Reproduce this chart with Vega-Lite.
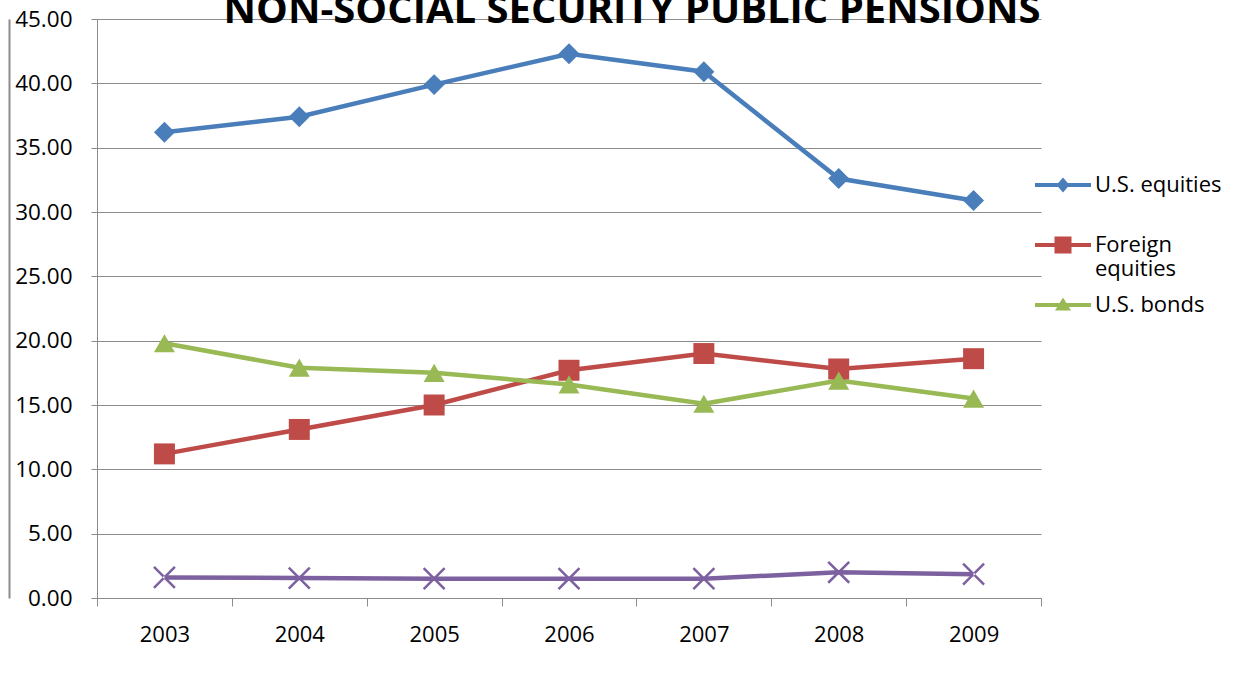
{
 "$schema": "https://vega.github.io/schema/vega-lite/v6.json",
 "width": 944,
 "height": 579,
 "autosize": {"type": "none"},
 "padding": {"left": 97, "top": 19, "right": 208, "bottom": 83},
 "background": "white",
 "title": {"text": "NON-SOCIAL SECURITY PUBLIC PENSIONS", "font": "Open Sans", "fontSize": 40, "fontWeight": "bold", "color": "#000000", "anchor": "middle", "frame": "group", "baseline": "alphabetic", "offset": -55, "dx": 63},
 "data": {"values": [
  {"year": "2003", "series": "U.S. equities", "value": 36.2},
  {"year": "2004", "series": "U.S. equities", "value": 37.4},
  {"year": "2005", "series": "U.S. equities", "value": 39.9},
  {"year": "2006", "series": "U.S. equities", "value": 42.3},
  {"year": "2007", "series": "U.S. equities", "value": 40.9},
  {"year": "2008", "series": "U.S. equities", "value": 32.6},
  {"year": "2009", "series": "U.S. equities", "value": 30.9},
  {"year": "2003", "series": "Foreign equities", "value": 11.2},
  {"year": "2004", "series": "Foreign equities", "value": 13.1},
  {"year": "2005", "series": "Foreign equities", "value": 15.0},
  {"year": "2006", "series": "Foreign equities", "value": 17.7},
  {"year": "2007", "series": "Foreign equities", "value": 19.0},
  {"year": "2008", "series": "Foreign equities", "value": 17.8},
  {"year": "2009", "series": "Foreign equities", "value": 18.6},
  {"year": "2003", "series": "U.S. bonds", "value": 19.8},
  {"year": "2004", "series": "U.S. bonds", "value": 17.9},
  {"year": "2005", "series": "U.S. bonds", "value": 17.5},
  {"year": "2006", "series": "U.S. bonds", "value": 16.6},
  {"year": "2007", "series": "U.S. bonds", "value": 15.1},
  {"year": "2008", "series": "U.S. bonds", "value": 16.9},
  {"year": "2009", "series": "U.S. bonds", "value": 15.5},
  {"year": "2003", "series": "Other", "value": 1.6},
  {"year": "2004", "series": "Other", "value": 1.55},
  {"year": "2005", "series": "Other", "value": 1.5},
  {"year": "2006", "series": "Other", "value": 1.5},
  {"year": "2007", "series": "Other", "value": 1.5},
  {"year": "2008", "series": "Other", "value": 2.0},
  {"year": "2009", "series": "Other", "value": 1.85}
 ]},
 "layer": [
  {
   "mark": {"type": "rule", "opacity": 0},
   "encoding": {
    "y": {"datum": 0, "type": "quantitative", "scale": {"domain": [0, 1]},
          "axis": {"orient": "left", "offset": 88, "labels": false, "ticks": false, "grid": false, "title": null, "domainColor": "#8c8c8c", "domainWidth": 2}}
   }
  },
  {
   "encoding": {
    "x": {"field": "year", "type": "ordinal", "scale": {"type": "band", "paddingInner": 0, "paddingOuter": 0},
          "axis": {"title": null, "tickBand": "extent", "labelAngle": 0, "tickSize": 8, "labelPadding": 18, "grid": false,
                   "domainColor": "#8c8c8c", "tickColor": "#8c8c8c", "labelFont": "Open Sans", "labelFontSize": 22, "labelColor": "#000000"}},
    "y": {"field": "value", "type": "quantitative", "scale": {"domain": [0, 45], "nice": false, "zero": true},
          "axis": {"title": null, "orient": "left", "values": [0, 5, 10, 15, 20, 25, 30, 35, 40, 45], "format": ".2f", "grid": true, "gridColor": "#8c8c8c", "gridOpacity": 1,
                   "domainColor": "#8c8c8c", "tickColor": "#8c8c8c", "tickSize": 6, "labelPadding": 19,
                   "labelFont": "Open Sans", "labelFontSize": 22.5, "labelColor": "#000000"}}
   },
   "layer": [
    {
     "mark": {"type": "line", "strokeWidth": 4.5},
     "encoding": {
      "color": {"field": "series", "type": "nominal", "legend": null,
                "scale": {"domain": ["U.S. equities", "Foreign equities", "U.S. bonds", "Other"], "range": ["#4A7EBB", "#BE4B48", "#98B954", "#7D60A0"]}}
     }
    },
    {
     "mark": {"type": "point", "filled": true, "opacity": 1, "size": 440},
     "encoding": {
      "color": {"field": "series", "type": "nominal", "legend": null},
      "shape": {"field": "series", "type": "nominal", "legend": null,
                "scale": {"domain": ["U.S. equities", "Foreign equities", "U.S. bonds", "Other"],
                          "range": ["diamond", "square", "triangle-up", "M-0.915,-1.085L1.085,0.915L0.915,1.085L-1.085,-0.915Z M-0.915,1.085L1.085,-0.915L0.915,-1.085L-1.085,0.915Z"]}}
     }
    },
    {
     "mark": {"type": "point", "filled": true, "opacity": 0, "size": 10},
     "encoding": {
      "color": {"field": "series", "type": "nominal",
                "legend": {"values": ["U.S. equities", "Foreign equities", "U.S. bonds"], "title": null, "orient": "none", "legendX": 955, "legendY": 155,
                           "labelFont": "Open Sans", "labelFontSize": 22, "labelColor": "#000000", "symbolSize": 400, "labelOffset": 21, "rowPadding": 14,
                           "labelExpr": "datum.label === 'Foreign equities' ? ['Foreign', 'equities'] : [datum.label, '']",
                           "encode": {"symbols": {"update": {"opacity": {"value": 1}}}}}},
      "shape": {"field": "series", "type": "nominal",
                "scale": {"domain": ["U.S. equities", "Foreign equities", "U.S. bonds", "Other"],
                          "range": ["M-2.8,-0.2L2.8,-0.2L2.8,0.2L-2.8,0.2Z M0,-0.75L0.65,0L0,0.75L-0.65,0Z",
                                    "M-2.8,-0.2L2.8,-0.2L2.8,0.2L-2.8,0.2Z M-0.85,-0.85L0.85,-0.85L0.85,0.85L-0.85,0.85Z",
                                    "M-2.8,-0.2L2.8,-0.2L2.8,0.2L-2.8,0.2Z M0,-0.75L0.8,0.55L-0.8,0.55Z",
                                    "M-2.8,-0.2L2.8,-0.2L2.8,0.2L-2.8,0.2Z"]},
                "legend": {"values": ["U.S. equities", "Foreign equities", "U.S. bonds"], "title": null, "orient": "none", "legendX": 955, "legendY": 155,
                           "labelFont": "Open Sans", "labelFontSize": 22, "labelColor": "#000000", "symbolSize": 400, "labelOffset": 21, "rowPadding": 14,
                           "labelExpr": "datum.label === 'Foreign equities' ? ['Foreign', 'equities'] : [datum.label, '']",
                           "encode": {"symbols": {"update": {"opacity": {"value": 1}}}}}}
     }
    }
   ],
   "resolve": {"scale": {"shape": "independent"}, "legend": {"color": "independent", "shape": "independent"}}
  }
 ],
 "resolve": {"scale": {"y": "independent"}},
 "config": {"view": {"stroke": null}}
}
